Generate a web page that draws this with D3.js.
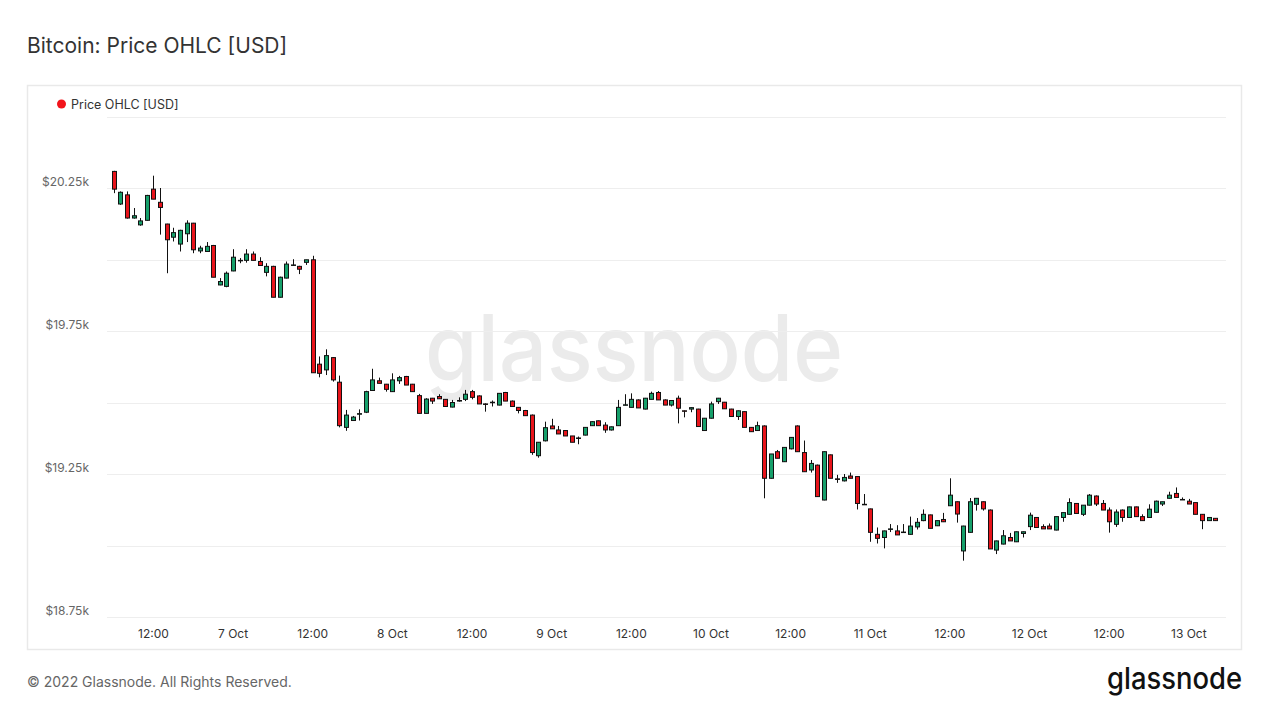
<!DOCTYPE html>
<html>
<head>
<meta charset="utf-8">
<script src="https://cdn.jsdelivr.net/npm/d3@7"></script>
<style>
  html, body { margin: 0; padding: 0; background: #fff; }
  svg { display: block; font-family: Inter, "Noto Sans", sans-serif; }
</style>
</head>
<body>
<svg id="chart" width="1269" height="714"></svg>
<script>
// hourly candles, first one is 6 Oct 2022 06:00 UTC
const startTime = Date.UTC(2022, 9, 6, 6);

const opens = [
  20308, 20194, 20226, 20145, 20121, 20137, 20246, 20200, 20124, 20078,
  20054, 20090, 20127, 20030, 20028, 20049, 19911, 19906, 19960, 19996,
  19997, 20019, 19993, 19955, 19976, 19868, 19935, 19980, 19976, 19990,
  19999, 19634, 19614, 19657, 19571, 19413, 19437, 19459, 19466, 19542,
  19576, 19564, 19538, 19576, 19591, 19564, 19524, 19462, 19515, 19521,
  19511, 19484, 19505, 19511, 19538, 19523, 19495, 19500, 19491, 19535,
  19505, 19483, 19472, 19456, 19314, 19366, 19418, 19404, 19402, 19383,
  19375, 19386, 19419, 19436, 19421, 19404, 19419, 19491, 19483, 19509,
  19477, 19511, 19535, 19509, 19491, 19515, 19471, 19477, 19477, 19402,
  19445, 19503, 19501, 19477, 19451, 19468, 19413, 19402, 19418, 19235,
  19328, 19293, 19338, 19418, 19325, 19264, 19281, 19159, 19317, 19233,
  19226, 19243, 19241, 19144, 19128, 19039, 19028, 19057, 19051, 19046,
  19039, 19065, 19087, 19107, 19069, 19091, 19139, 19153, 18981, 19046,
  19144, 19153, 19124, 18984, 19005, 19028, 19013, 19042, 19066, 19098,
  19066, 19068, 19054, 19098, 19109, 19147, 19109, 19141, 19173, 19147,
  19124, 19074, 19124, 19098, 19135, 19101, 19098, 19116, 19145, 19165,
  19182, 19161, 19155, 19150, 19109, 19087, 19095
];
const highs = [
  20310, 20238, 20238, 20180, 20145, 20226, 20293, 20250, 20125, 20111,
  20104, 20137, 20128, 20048, 20061, 20051, 19935, 19958, 20036, 20005,
  20036, 20028, 20008, 19987, 19978, 19940, 19993, 20001, 19978, 19999,
  20013, 19661, 19686, 19659, 19594, 19474, 19453, 19476, 19541, 19618,
  19587, 19565, 19602, 19593, 19593, 19565, 19530, 19515, 19516, 19529,
  19512, 19509, 19518, 19544, 19544, 19525, 19497, 19507, 19532, 19537,
  19507, 19484, 19474, 19458, 19361, 19433, 19443, 19418, 19402, 19383,
  19381, 19414, 19434, 19437, 19431, 19416, 19509, 19529, 19532, 19511,
  19516, 19538, 19540, 19511, 19507, 19524, 19472, 19483, 19478, 19446,
  19503, 19516, 19502, 19478, 19472, 19469, 19414, 19433, 19420, 19320,
  19334, 19344, 19379, 19420, 19367, 19299, 19283, 19329, 19318, 19247,
  19250, 19255, 19241, 19180, 19129, 19063, 19052, 19075, 19071, 19075,
  19101, 19096, 19126, 19108, 19087, 19114, 19235, 19154, 19069, 19166,
  19166, 19154, 19126, 19017, 19054, 19044, 19049, 19049, 19115, 19099,
  19074, 19077, 19101, 19115, 19165, 19148, 19141, 19180, 19175, 19159,
  19133, 19126, 19126, 19136, 19136, 19109, 19144, 19157, 19153, 19188,
  19203, 19168, 19163, 19150, 19110, 19099, 19096
];
const lows = [
  20232, 20191, 20143, 20143, 20118, 20136, 20211, 20087, 19952, 20063,
  20028, 20061, 20022, 20022, 20027, 19938, 19910, 19903, 19959, 19987,
  19989, 19997, 19979, 19941, 19868, 19867, 19934, 19978, 19949, 19981,
  19604, 19588, 19596, 19573, 19413, 19401, 19436, 19437, 19463, 19541,
  19567, 19538, 19537, 19565, 19561, 19538, 19462, 19462, 19495, 19513,
  19486, 19483, 19503, 19505, 19511, 19495, 19468, 19486, 19490, 19505,
  19486, 19462, 19454, 19317, 19307, 19364, 19408, 19390, 19383, 19361,
  19354, 19385, 19418, 19419, 19394, 19402, 19418, 19490, 19483, 19481,
  19476, 19511, 19509, 19491, 19486, 19427, 19448, 19466, 19416, 19401,
  19444, 19495, 19478, 19451, 19439, 19413, 19398, 19401, 19165, 19234,
  19305, 19292, 19336, 19328, 19258, 19255, 19171, 19158, 19235, 19219,
  19224, 19235, 19126, 19142, 19013, 19007, 18990, 19047, 19037, 19044,
  19038, 19056, 19085, 19060, 19068, 19082, 19138, 19080, 18947, 19045,
  19122, 19122, 18988, 18970, 19004, 19016, 19012, 19028, 19054, 19063,
  19058, 19058, 19053, 19083, 19108, 19112, 19103, 19140, 19138, 19124,
  19045, 19065, 19083, 19098, 19101, 19087, 19098, 19115, 19138, 19164,
  19168, 19161, 19145, 19109, 19057, 19086, 19086
];
const closes = [
  20246, 20235, 20145, 20153, 20135, 20224, 20211, 20182, 20069, 20094,
  20102, 20127, 20034, 20040, 20046, 19938, 19923, 19952, 20008, 19997,
  20019, 19997, 19979, 19976, 19868, 19938, 19984, 19981, 19966, 19999,
  19604, 19602, 19664, 19579, 19419, 19456, 19449, 19461, 19538, 19579,
  19567, 19546, 19579, 19587, 19561, 19538, 19462, 19512, 19505, 19513,
  19486, 19500, 19507, 19529, 19518, 19495, 19494, 19501, 19532, 19505,
  19486, 19472, 19454, 19325, 19361, 19412, 19408, 19390, 19383, 19361,
  19376, 19413, 19433, 19419, 19404, 19415, 19483, 19492, 19511, 19481,
  19515, 19532, 19509, 19491, 19507, 19480, 19470, 19482, 19416, 19445,
  19495, 19515, 19478, 19451, 19471, 19413, 19398, 19419, 19235, 19320,
  19305, 19343, 19378, 19328, 19258, 19287, 19171, 19328, 19235, 19231,
  19238, 19235, 19147, 19143, 19046, 19025, 19051, 19058, 19037, 19047,
  19068, 19081, 19109, 19060, 19087, 19083, 19176, 19110, 19068, 19153,
  19165, 19128, 18988, 19016, 19034, 19016, 19048, 19048, 19106, 19063,
  19058, 19058, 19101, 19115, 19150, 19112, 19141, 19176, 19145, 19124,
  19083, 19117, 19098, 19135, 19101, 19087, 19127, 19155, 19153, 19176,
  19168, 19161, 19145, 19109, 19087, 19098, 19087
];

const yGridValues = [18750, 19000, 19250, 19500, 19750, 20000, 20250, 20500];
const yLabelValues = [18750, 19250, 19750, 20250];
const xTickValues = d3.range(0, 14).map(i => new Date(Date.UTC(2022, 9, 6, 12) + i * 12 * 3600e3));

const upColor = "#16a06b";
const downColor = "#e8141b";

const svg = d3.select("#chart");

// title
svg.append("text")
    .attr("x", 27).attr("y", 53)
    .style("font-size", "21px")
    .style("fill", "#333")
    .text("Bitcoin: Price OHLC [USD]");

// chart frame
svg.append("rect")
    .attr("x", 27.5).attr("y", 85.5)
    .attr("width", 1214).attr("height", 564)
    .style("fill", "none")
    .style("stroke", "#e9e9e9")
    .style("stroke-width", 1.5);

// legend
svg.append("circle")
    .attr("cx", 61.5).attr("cy", 104)
    .attr("r", 4.5)
    .style("fill", "#f2141b");
svg.append("text")
    .attr("x", 71).attr("y", 108.5)
    .style("font-size", "12.5px")
    .style("fill", "#333")
    .text("Price OHLC [USD]");

// scales
const x = d3.scaleUtc()
    .domain([new Date(Date.UTC(2022, 9, 6, 5)), new Date(Date.UTC(2022, 9, 13, 5, 36))])
    .range([107, 1226]);
const y = d3.scaleLinear()
    .domain([18750, 20500])
    .range([617, 116.5]);

// watermark
svg.append("text")
    .attr("x", 634).attr("y", 381)
    .attr("text-anchor", "middle")
    .attr("textLength", 418)
    .attr("lengthAdjust", "spacingAndGlyphs")
    .style("font-size", "92px")
    .style("font-weight", 500)
    .style("fill", "#ebebeb")
    .text("glassnode");

// grid
svg.append("g")
    .selectAll("line")
    .data(yGridValues)
    .join("line")
    .attr("x1", 107).attr("x2", 1226)
    .attr("y1", d => Math.round(y(d)) + 0.5)
    .attr("y2", d => Math.round(y(d)) + 0.5)
    .style("stroke", "#eeeeee")
    .style("stroke-width", 1);

// y labels
svg.append("g")
    .selectAll("text")
    .data(yLabelValues)
    .join("text")
    .attr("x", 89)
    .attr("y", d => y(d) - 2.5)
    .attr("text-anchor", "end")
    .style("font-size", "12px")
    .style("fill", "#666")
    .text(d => "$" + d3.format(".2f")(d / 1000) + "k");

// x labels
const fmtDay = d3.utcFormat("%-d %b");
const fmtHour = d3.utcFormat("%H:%M");
svg.append("g")
    .selectAll("text")
    .data(xTickValues)
    .join("text")
    .attr("x", d => x(d))
    .attr("y", 637.5)
    .attr("text-anchor", "middle")
    .style("font-size", "12px")
    .style("fill", "#333")
    .text(d => d.getUTCHours() === 0 ? fmtDay(d) : fmtHour(d));

// candles
const candles = opens.map((o, i) => ({
    t: new Date(startTime + i * 3600e3),
    o: o, h: highs[i], l: lows[i], c: closes[i]
}));

const bodyW = 4;
const g = svg.append("g");
const candle = g.selectAll("g")
    .data(candles)
    .join("g");

candle.append("line")
    .attr("x1", d => Math.round(x(d.t)) + 0.5)
    .attr("x2", d => Math.round(x(d.t)) + 0.5)
    .attr("y1", d => y(d.h))
    .attr("y2", d => y(d.l))
    .style("stroke", "#111")
    .style("stroke-width", 1);

candle.append("rect")
    .attr("x", d => Math.round(x(d.t)) + 0.5 - bodyW / 2)
    .attr("y", d => y(Math.max(d.o, d.c)))
    .attr("width", bodyW)
    .attr("height", d => Math.max(0.5, Math.abs(y(d.o) - y(d.c))))
    .style("fill", d => d.c >= d.o ? upColor : downColor)
    .style("stroke", "#111")
    .style("stroke-width", 1);

// footer
svg.append("text")
    .attr("x", 27).attr("y", 687)
    .style("font-size", "14px")
    .style("fill", "#666")
    .text("© 2022 Glassnode. All Rights Reserved.");

svg.append("text")
    .attr("x", 1107).attr("y", 689)
    .attr("textLength", 135)
    .attr("lengthAdjust", "spacingAndGlyphs")
    .style("font-size", "30px")
    .style("font-weight", 500)
    .style("fill", "#111")
    .text("glassnode");
</script>
</body>
</html>
